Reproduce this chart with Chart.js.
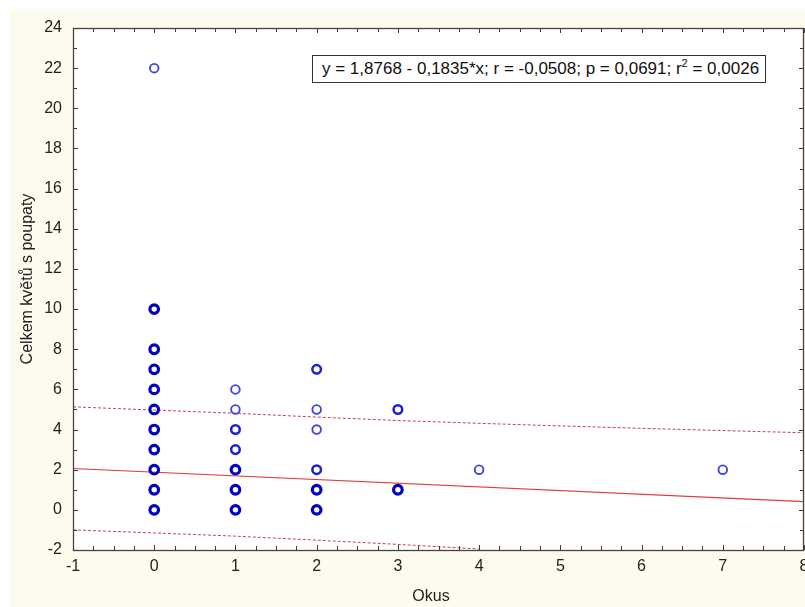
<!DOCTYPE html>
<html>
<head>
<meta charset="utf-8">
<script src="https://cdn.jsdelivr.net/npm/chart.js@4.4.0/dist/chart.umd.min.js"></script>
<style>
  html, body { margin: 0; padding: 0; background: #ffffff; }
  #wrap { position: relative; width: 805px; height: 607px; overflow: hidden; }
  canvas { display: block; }
  #eq {
    position: absolute; left: 312px; top: 55px;
    background: #ffffff; border: 1px solid #333333;
    font-family: "Liberation Sans", Arial, sans-serif; font-size: 17px;
    color: #111111; padding: 3px 6px 3px 9px; white-space: nowrap; line-height: 20px;
  }
  #eq sup { font-size: 11px; line-height: 0; vertical-align: 7px; }
</style>
</head>
<body>
<div id="wrap">
  <canvas id="c" width="805" height="607"></canvas>
  <div id="eq">y = 1,8768 - 0,1835*x; r = -0,0508; p = 0,0691; r<sup>2</sup> = 0,0026</div>
</div>
<script>
// ---- data ----
const okus   = [0,0,0,0,0,0,0,0,0,0,0, 1,1,1,1,1,1,1, 2,2,2,2,2,2, 3,3, 4, 7];
const kvety  = [0,1,2,3,4,5,6,7,8,10,22, 0,1,2,3,4,5,6, 0,1,2,4,5,7, 1,5, 2, 2];
// how many observations overlap at each marker (estimated from marker darkness)
const overlap = [3,3,3,3,3,3,3,3,3,3,1, 3,3,3,2,2,1,1, 3,3,2,1,1,2, 3,2, 1, 1];

const regX = [-1, 8];
const regY = [2.06, 0.41];

const upperX = [-1, 0, 1, 2, 3, 4, 5, 6, 7, 8];
const upperY = [5.13, 4.97, 4.81, 4.62, 4.45, 4.31, 4.18, 4.06, 3.95, 3.84];
const lowerX = [-1, 0, 1, 2, 3, 4];
const lowerY = [-1.00, -1.15, -1.31, -1.51, -1.72, -1.95];

const xTickMin = -1, xTickMax = 8, xTickStep = 1;
const yTickMin = -2, yTickMax = 24, yTickStep = 2;

const xTitle = "Okus";
const yTitle = "Celkem květů s poupaty";

// ---- build ----
const pts = okus.map((x, i) => ({ x: x, y: kvety[i] }));
const toXY = (xs, ys) => xs.map((x, i) => ({ x: x, y: ys[i] }));
const colorFor = n => n >= 3 ? '#0000c4' : (n === 2 ? '#1f1fcc' : '#4646d6');
const widthFor = n => n >= 3 ? 3.2 : (n === 2 ? 2.5 : 1.9);

const FONT = "'Liberation Sans', Arial, sans-serif";

const decor = {
  id: 'decor',
  beforeDraw(chart) {
    const ctx = chart.ctx;
    ctx.save();
    ctx.fillStyle = '#ffffff';
    ctx.fillRect(0, 0, chart.width, chart.height);
    ctx.fillStyle = '#fdfbee';
    ctx.fillRect(9, 9, chart.width - 9, chart.height - 9);
    const a = chart.chartArea;
    ctx.fillStyle = '#ffffff';
    ctx.fillRect(a.left, a.top, a.right - a.left, a.bottom - a.top);
    ctx.restore();
  },
  afterDatasetsDraw(chart) {
    const ctx = chart.ctx, a = chart.chartArea;
    const xs = chart.scales.x, ys = chart.scales.y;
    ctx.save();
    ctx.strokeStyle = '#3a3a3a';
    ctx.lineWidth = 1;
    ctx.beginPath();
    for (let v = xTickMin; v <= xTickMax + 1e-9; v += 0.25) {
      const px = Math.round(xs.getPixelForValue(v)) + 0.5;
      const major = Math.abs(v - Math.round(v)) < 1e-9;
      const len = major ? 5 : 4;
      ctx.moveTo(px, a.bottom); ctx.lineTo(px, a.bottom - len);
      ctx.moveTo(px, a.top); ctx.lineTo(px, a.top + len);
    }
    for (let v = yTickMin; v <= yTickMax + 1e-9; v += 1) {
      const py = Math.round(ys.getPixelForValue(v)) + 0.5;
      const len = (v % 2 === 0) ? 5 : 4;
      ctx.moveTo(a.left, py); ctx.lineTo(a.left + len, py);
      ctx.moveTo(a.right, py); ctx.lineTo(a.right - len, py);
    }
    ctx.stroke();
    ctx.strokeStyle = '#444444';
    ctx.lineWidth = 1.3;
    ctx.strokeRect(Math.round(a.left) + 0.5, Math.round(a.top) + 0.5,
                   Math.round(a.right - a.left) - 1, Math.round(a.bottom - a.top));
    // axis titles
    ctx.fillStyle = '#222222';
    ctx.textAlign = 'center';
    ctx.textBaseline = 'middle';
    ctx.font = "16px " + FONT;
    ctx.fillText(xTitle, 431, 597);
    ctx.translate(28, 279);
    ctx.rotate(-Math.PI / 2);
    ctx.font = "16px " + FONT;
    ctx.fillText(yTitle, 0, 0);
    ctx.restore();
  }
};

new Chart(document.getElementById('c'), {
  type: 'scatter',
  data: {
    datasets: [
      {
        label: 'body',
        data: pts,
        showLine: false,
        pointStyle: 'circle',
        pointRadius: 4.3,
        backgroundColor: 'rgba(0,0,0,0)',
        borderColor: overlap.map(colorFor),
        pointBorderWidth: overlap.map(widthFor),
        borderWidth: overlap.map(widthFor),
        order: 1
      },
      {
        label: 'regrese',
        data: toXY(regX, regY),
        showLine: true,
        borderColor: '#e03a3a',
        borderWidth: 1.2,
        pointRadius: 0,
        fill: false,
        order: 2
      },
      {
        label: 'horni',
        data: toXY(upperX, upperY),
        showLine: true,
        borderColor: '#c24848',
        borderWidth: 1,
        borderDash: [3, 2],
        pointRadius: 0,
        fill: false,
        order: 2
      },
      {
        label: 'dolni',
        data: toXY(lowerX, lowerY),
        showLine: true,
        borderColor: '#c24848',
        borderWidth: 1,
        borderDash: [3, 2],
        pointRadius: 0,
        fill: false,
        order: 2
      }
    ]
  },
  options: {
    responsive: false,
    animation: false,
    layout: { autoPadding: false, padding: { top: 28, right: 1, left: 0, bottom: 0 } },
    plugins: { legend: { display: false }, tooltip: { enabled: false } },
    scales: {
      x: {
        type: 'linear',
        min: xTickMin, max: xTickMax,
        grid: { display: false, drawTicks: false },
        border: { display: false },
        ticks: {
          stepSize: xTickStep,
          padding: 7,
          color: '#222222',
          font: { family: FONT, size: 16 }
        },
        title: { display: false },
        afterFit(s) { s.height = 57; s.paddingLeft = 0; s.paddingRight = 0; }
      },
      y: {
        type: 'linear',
        min: yTickMin, max: yTickMax,
        grid: { display: false, drawTicks: false },
        border: { display: false },
        ticks: {
          stepSize: yTickStep,
          padding: 11,
          color: '#222222',
          font: { family: FONT, size: 16 }
        },
        title: { display: false },
        afterFit(s) { s.width = 73; s.paddingTop = 0; s.paddingBottom = 0; }
      }
    }
  },
  plugins: [decor]
});
</script>
</body>
</html>
